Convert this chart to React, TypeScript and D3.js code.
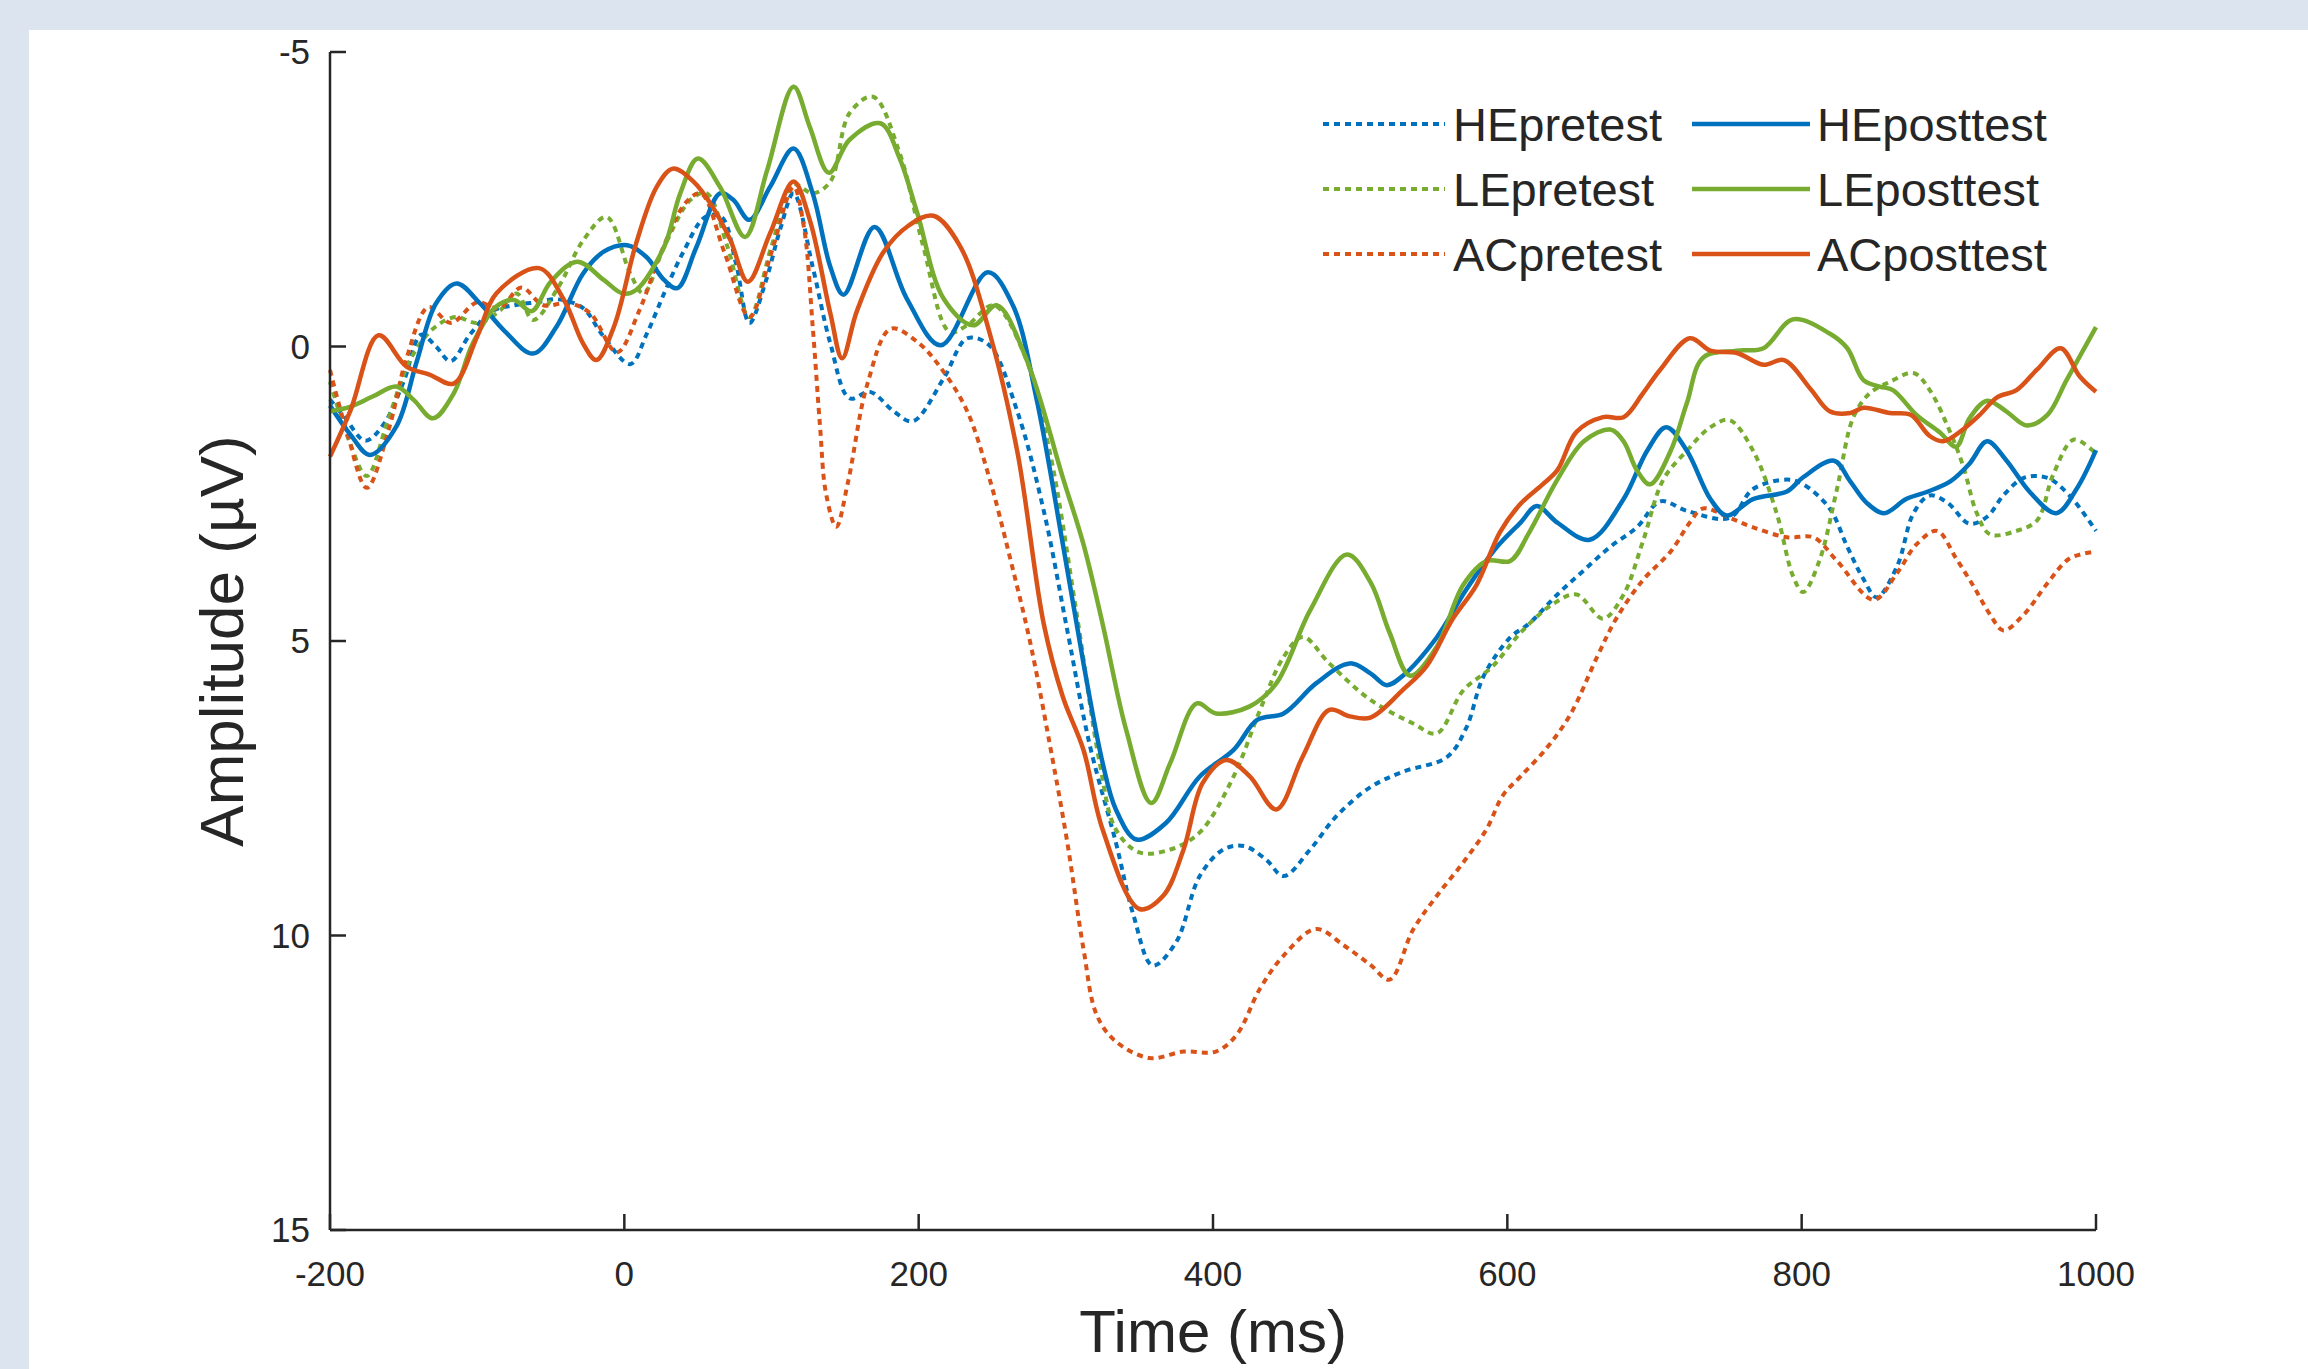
import React from 'react';
import * as d3 from 'd3';

type Pt = [number, number];

const xTicks = [-200, 0, 200, 400, 600, 800, 1000];
const yTicks = [-5, 0, 5, 10, 15];

// [time (ms), amplitude (µV)]
const hePretest: Pt[] = [
  [-200, 0.9], [-190, 1.2], [-176, 1.6], [-163, 1.3], [-150, 0.6], [-138, -0.2], [-128, 0.0], [-118, 0.25],
  [-105, -0.2], [-90, -0.6], [-75, -0.7], [-60, -0.75], [-45, -0.8], [-28, -0.65], [-15, -0.2], [4, 0.3],
  [15, -0.2], [27, -0.9], [40, -1.6], [55, -2.2], [66, -2.2], [76, -1.4], [85, -0.4], [96, -1.1], [106, -2.0],
  [115, -2.6], [128, -1.35], [140, -0.05], [153, 0.88], [167, 0.77], [183, 1.1], [196, 1.27], [217, 0.54],
  [233, -0.14], [248, -0.02], [267, 1.1], [285, 2.79], [301, 4.82], [316, 6.74], [334, 8.42], [346, 9.66],
  [359, 10.51], [375, 10.11], [391, 8.99], [407, 8.54], [421, 8.48], [436, 8.71], [448, 8.99], [466, 8.54],
  [484, 7.97], [507, 7.48], [529, 7.22], [559, 6.97], [572, 6.48], [584, 5.59], [602, 4.94], [615, 4.7],
  [634, 4.21], [652, 3.8], [670, 3.4], [688, 3.07], [704, 2.63], [722, 2.79], [751, 2.91], [767, 2.42],
  [790, 2.26], [801, 2.34], [819, 2.75], [831, 3.4], [842, 3.95], [851, 4.26], [865, 3.72], [876, 2.83],
  [887, 2.53], [899, 2.65], [914, 3.01], [926, 2.89], [937, 2.53], [951, 2.23], [967, 2.23], [982, 2.53],
  [1000, 3.13],
];

const lePretest: Pt[] = [
  [-200, 0.6], [-187, 1.6], [-175, 2.2], [-160, 1.2], [-145, 0.2], [-130, -0.3], [-115, -0.5], [-100, -0.4],
  [-85, -0.6], [-73, -0.9], [-62, -0.45], [-45, -1.0], [-28, -1.8], [-12, -2.2], [4, -1.24], [13, -0.9],
  [27, -1.69], [45, -2.49], [56, -2.6], [70, -1.7], [85, -0.5], [100, -1.7], [115, -2.75], [128, -2.6],
  [140, -2.8], [153, -3.96], [169, -4.24], [187, -3.29], [203, -1.71], [221, -0.25], [233, -0.36], [251, -0.7],
  [271, 0.09], [289, 1.78], [307, 4.48], [323, 7.07], [334, 8.2], [350, 8.59], [371, 8.54], [391, 8.25],
  [414, 7.3], [432, 6.17], [448, 5.27], [461, 4.93], [479, 5.38], [507, 6.0], [536, 6.4], [552, 6.57],
  [570, 5.84], [590, 5.43], [609, 4.86], [631, 4.37], [647, 4.21], [665, 4.62], [679, 4.21], [692, 3.32],
  [706, 2.26], [722, 1.77], [738, 1.37], [751, 1.25], [767, 1.77], [783, 2.83], [794, 3.89], [801, 4.17],
  [812, 3.64], [824, 2.42], [835, 1.21], [846, 0.8], [860, 0.6], [876, 0.45], [887, 0.74], [901, 1.46],
  [910, 2.05], [919, 2.83], [928, 3.19], [946, 3.13], [960, 2.95], [971, 2.17], [985, 1.58], [1000, 1.82],
];

const acPretest: Pt[] = [
  [-200, 0.4], [-188, 1.5], [-175, 2.4], [-160, 1.4], [-148, 0.2], [-133, -0.67], [-118, -0.4], [-100, -0.75],
  [-85, -0.65], [-70, -1.0], [-55, -0.7], [-38, -0.74], [-23, -0.56], [-5, 0.1], [10, -0.6], [25, -1.6],
  [42, -2.45], [52, -2.6], [68, -1.6], [85, -0.5], [100, -1.6], [115, -2.71], [122, -2.03], [128, -0.34],
  [133, 1.36], [137, 2.49], [144, 3.06], [152, 2.3], [165, 0.65], [181, -0.3], [199, -0.08], [217, 0.43],
  [233, 1.1], [248, 2.23], [262, 3.58], [276, 5.05], [289, 6.74], [301, 8.42], [312, 10.23], [321, 11.35],
  [334, 11.8], [357, 12.08], [380, 11.97], [402, 11.97], [416, 11.69], [432, 10.9], [448, 10.34], [470, 9.89],
  [489, 10.17], [507, 10.5], [520, 10.75], [536, 9.9], [552, 9.33], [570, 8.76], [586, 8.19], [597, 7.62],
  [609, 7.3], [627, 6.81], [643, 6.24], [661, 5.27], [674, 4.62], [692, 3.97], [711, 3.48], [724, 2.99],
  [733, 2.75], [751, 2.91], [767, 3.07], [790, 3.24], [808, 3.24], [824, 3.64], [849, 4.3], [865, 3.84],
  [878, 3.36], [892, 3.13], [905, 3.6], [917, 4.08], [928, 4.55], [937, 4.82], [951, 4.55], [967, 4.02],
  [982, 3.6], [1000, 3.48],
];

const hePosttest: Pt[] = [
  [-200, 1.0], [-186, 1.5], [-173, 1.84], [-155, 1.36], [-141, 0.25], [-128, -0.73], [-114, -1.07], [-98, -0.73],
  [-82, -0.28], [-62, 0.12], [-46, -0.34], [-28, -1.24], [-14, -1.61], [2, -1.72], [15, -1.52], [27, -1.13],
  [36, -0.99], [49, -1.69], [65, -2.6], [74, -2.49], [85, -2.15], [99, -2.71], [115, -3.36], [128, -2.6],
  [140, -1.35], [149, -0.88], [170, -2.03], [192, -0.81], [215, -0.02], [247, -1.26], [264, -0.7], [280, 0.88],
  [298, 3.36], [312, 5.38], [325, 7.07], [334, 7.86], [348, 8.37], [368, 8.09], [391, 7.3], [414, 6.85],
  [430, 6.34], [448, 6.23], [470, 5.72], [493, 5.38], [507, 5.55], [518, 5.75], [529, 5.59], [552, 4.94],
  [572, 4.13], [593, 3.4], [609, 2.99], [620, 2.71], [634, 2.99], [656, 3.28], [679, 2.59], [695, 1.77],
  [708, 1.37], [722, 1.77], [738, 2.59], [749, 2.87], [767, 2.59], [790, 2.46], [801, 2.22], [822, 1.94],
  [833, 2.29], [844, 2.65], [856, 2.83], [871, 2.59], [885, 2.47], [901, 2.29], [914, 1.99], [926, 1.61],
  [939, 1.93], [955, 2.47], [973, 2.83], [987, 2.41], [1000, 1.76],
];

const lePosttest: Pt[] = [
  [-200, 1.1], [-186, 1.02], [-171, 0.85], [-155, 0.68], [-143, 0.91], [-130, 1.22], [-116, 0.8], [-103, -0.05],
  [-87, -0.68], [-75, -0.79], [-63, -0.6], [-50, -1.1], [-32, -1.44], [-14, -1.13], [-1, -0.9], [8, -0.96],
  [27, -1.69], [38, -2.6], [50, -3.19], [65, -2.71], [82, -1.86], [97, -2.99], [115, -4.41], [126, -3.73],
  [139, -2.95], [153, -3.51], [174, -3.79], [187, -3.2], [199, -2.27], [217, -0.81], [237, -0.36], [253, -0.7],
  [273, 0.2], [298, 2.23], [312, 3.36], [325, 4.71], [341, 6.51], [358, 7.75], [371, 7.07], [389, 6.06],
  [402, 6.23], [425, 6.11], [443, 5.72], [466, 4.48], [491, 3.53], [507, 4.0], [520, 4.86], [534, 5.59],
  [552, 5.1], [570, 4.05], [586, 3.64], [602, 3.64], [615, 3.15], [634, 2.26], [652, 1.61], [670, 1.41],
  [679, 1.61], [688, 2.1], [697, 2.34], [711, 1.77], [722, 0.96], [733, 0.19], [756, 0.07], [774, 0.03],
  [794, -0.46], [819, -0.22], [831, 0.03], [842, 0.57], [853, 0.68], [862, 0.74], [878, 1.16], [894, 1.46],
  [905, 1.7], [914, 1.22], [926, 0.92], [939, 1.1], [953, 1.34], [967, 1.16], [980, 0.57], [1000, -0.33],
];

const acPosttest: Pt[] = [
  [-200, 1.87], [-186, 1.08], [-167, -0.19], [-148, 0.34], [-132, 0.48], [-116, 0.63], [-100, -0.17], [-87, -0.9],
  [-58, -1.33], [-41, -0.79], [-28, -0.05], [-19, 0.23], [-7, -0.34], [8, -1.75], [22, -2.71], [33, -3.02],
  [47, -2.8], [60, -2.37], [72, -1.81], [84, -1.1], [99, -1.92], [115, -2.8], [126, -2.15], [140, -0.56],
  [148, 0.2], [158, -0.6], [176, -1.6], [193, -2.05], [210, -2.22], [228, -1.71], [248, -0.25], [267, 1.78],
  [285, 4.71], [298, 5.95], [312, 6.85], [325, 8.2], [350, 9.55], [366, 9.33], [380, 8.54], [393, 7.41],
  [409, 7.02], [425, 7.3], [443, 7.86], [461, 6.96], [479, 6.17], [493, 6.28], [507, 6.3], [529, 5.83],
  [545, 5.43], [563, 4.62], [579, 4.05], [595, 3.15], [609, 2.67], [624, 2.34], [634, 2.1], [647, 1.45],
  [665, 1.2], [679, 1.2], [692, 0.8], [704, 0.39], [724, -0.14], [738, 0.07], [756, 0.11], [774, 0.31],
  [788, 0.23], [806, 0.72], [819, 1.1], [833, 1.13], [842, 1.04], [860, 1.13], [874, 1.16], [887, 1.52],
  [896, 1.61], [910, 1.4], [921, 1.16], [933, 0.86], [946, 0.74], [960, 0.39], [976, 0.03], [989, 0.51],
  [1000, 0.77],
];

const BLUE = '#0072bd';
const ORANGE = '#d95319';
const GREEN = '#77ac30';
const INK = '#262626';
const FONT = '"Liberation Sans", Arial, Helvetica, sans-serif';

const series = [
  { name: 'HEpretest', data: hePretest, color: BLUE, dotted: true },
  { name: 'LEpretest', data: lePretest, color: GREEN, dotted: true },
  { name: 'ACpretest', data: acPretest, color: ORANGE, dotted: true },
  { name: 'HEposttest', data: hePosttest, color: BLUE, dotted: false },
  { name: 'LEposttest', data: lePosttest, color: GREEN, dotted: false },
  { name: 'ACposttest', data: acPosttest, color: ORANGE, dotted: false },
];

const W = 2308;
const H = 1369;
const plot = { left: 330, right: 2096, top: 52, bottom: 1230 };

export default function App() {
  const x = d3.scaleLinear().domain([-200, 1000]).range([plot.left, plot.right]);
  const y = d3.scaleLinear().domain([-5, 15]).range([plot.top, plot.bottom]);
  const line = d3.line<Pt>()
    .x(d => x(d[0]))
    .y(d => y(d[1]))
    .curve(d3.curveCatmullRom.alpha(0.5));

  const tickLen = 16;
  const dash = '6 5';

  // legend: pretests in the left column, posttests in the right one
  const legendRows = [124, 189, 254];
  const legendCols = [
    { x0: 1323, x1: 1445, tx: 1453 },
    { x0: 1692, x1: 1810, tx: 1817 },
  ];

  return (
    <>
      <style>{'body{margin:0}'}</style>
      <svg width={W} height={H} style={{ display: 'block' }} fontFamily={FONT}>
        <rect width={W} height={H} fill="#dce5ef" />
        <rect x={29} y={30} width={W - 29} height={H - 30} fill="#ffffff" />

        {series.map(s => (
          <path
            key={s.name}
            d={line(s.data) ?? ''}
            fill="none"
            stroke={s.color}
            strokeWidth={s.dotted ? 4 : 4.5}
            strokeDasharray={s.dotted ? dash : undefined}
            strokeLinejoin="round"
          />
        ))}

        {/* axes, MATLAB style: left + bottom only, ticks inward */}
        <g stroke={INK} strokeWidth={2.5} fill="none">
          <line x1={plot.left} x2={plot.left} y1={plot.top} y2={plot.bottom} />
          <line x1={plot.left} x2={plot.right} y1={plot.bottom} y2={plot.bottom} />
          {xTicks.map(t => (
            <line key={'xt' + t} x1={x(t)} x2={x(t)} y1={plot.bottom} y2={plot.bottom - tickLen} />
          ))}
          {yTicks.map(t => (
            <line key={'yt' + t} x1={plot.left} x2={plot.left + tickLen} y1={y(t)} y2={y(t)} />
          ))}
        </g>

        <g fill={INK} fontSize={35}>
          {xTicks.map(t => (
            <text key={'xl' + t} x={x(t)} y={plot.bottom + 56} textAnchor="middle">{t}</text>
          ))}
          {yTicks.map(t => (
            <text key={'yl' + t} x={plot.left - 20} y={y(t) + 12} textAnchor="end">{t}</text>
          ))}
        </g>

        <text x={(plot.left + plot.right) / 2} y={1352} textAnchor="middle" fontSize={60} fill={INK}>
          Time (ms)
        </text>
        <text
          transform={`translate(243, ${(plot.top + plot.bottom) / 2}) rotate(-90)`}
          textAnchor="middle"
          fontSize={62}
          fill={INK}
        >
          Amplitude (µV)
        </text>

        <g fontSize={47} fill={INK}>
          {series.map((s, i) => {
            const col = legendCols[s.dotted ? 0 : 1];
            const ry = legendRows[i % 3];
            return (
              <g key={'lg' + s.name}>
                <line
                  x1={col.x0}
                  x2={col.x1}
                  y1={ry}
                  y2={ry}
                  stroke={s.color}
                  strokeWidth={s.dotted ? 4 : 4.5}
                  strokeDasharray={s.dotted ? dash : undefined}
                />
                <text x={col.tx} y={ry + 17}>{s.name}</text>
              </g>
            );
          })}
        </g>
      </svg>
    </>
  );
}
